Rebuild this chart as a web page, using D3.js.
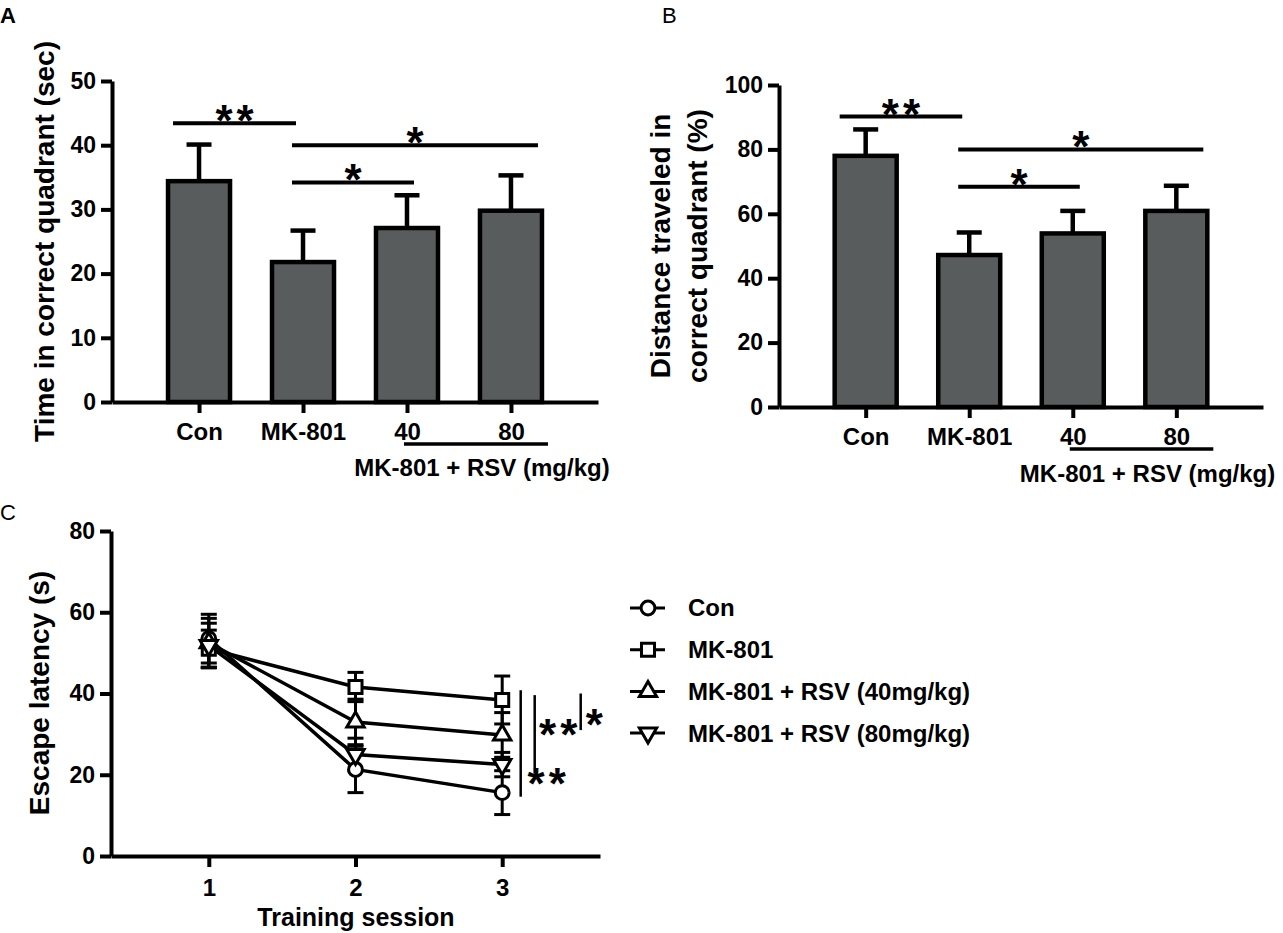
<!DOCTYPE html>
<html>
<head>
<meta charset="utf-8">
<script src="https://cdn.jsdelivr.net/npm/d3@7"></script>
<style>
  body { margin: 0; background: #fff; }
  svg { display: block; font-family: "Liberation Sans", Arial, sans-serif; font-weight: bold; }
</style>
</head>
<body>
<svg id="chart" width="1283" height="933"></svg>
<script>
// ---- data ----
const barCats = ["Con", "MK-801", "40", "80"];
const timeMeans = [34.4, 21.8, 27.1, 29.8];
const timeSem = [5.7, 4.9, 5.1, 5.5];
const timeTicks = [0, 10, 20, 30, 40, 50];
const distMeans = [78.0, 47.2, 53.9, 60.9];
const distSem = [8.2, 7.0, 7.0, 7.8];
const distTicks = [0, 20, 40, 60, 80, 100];
// [from group, to group, bar height, label]
const sigTime = [[0, 1, 43.4, "**"], [1, 3, 40.0, "*"], [1, 2, 34.2, "*"]];
const sigDist = [[0, 1, 90.2, "**"], [1, 3, 80.0, "*"], [1, 2, 68.4, "*"]];

const sessions = [1, 2, 3];
const groupNames = ["Con", "MK-801", "MK-801 + RSV (40mg/kg)", "MK-801 + RSV (80mg/kg)"];
const conMeans = [53.5, 21.3, 15.6];
const conSem = [6.0, 5.7, 5.4];
const mkMeans = [51.0, 41.6, 38.4];
const mkSem = [4.6, 3.6, 5.9];
const rsv40Means = [52.5, 33.0, 29.8];
const rsv40Sem = [6.0, 5.6, 5.5];
const rsv80Means = [51.8, 25.0, 22.5];
const rsv80Sem = [5.5, 4.0, 3.0];
const latencyTicks = [0, 20, 40, 60, 80];
// [top, bottom, label]
const sigLatency = [[40.8, 14.6, "**"], [39.6, 20.3, "**"], [40.0, 31.0, "*"]];

const svg = d3.select("#chart");
svg.append("rect").attr("width", 1283).attr("height", 933).attr("fill", "#fff");

const barFill = "#595c5d";

// panel letters
svg.append("text").attr("x", 0).attr("y", 23).attr("font-size", 22).text("A");
svg.append("text").attr("x", 662).attr("y", 23).attr("font-size", 22).attr("font-weight", "normal").text("B");
svg.append("text").attr("x", 0).attr("y", 520).attr("font-size", 22).attr("font-weight", "normal").text("C");

function styleAxis(g, size) {
  g.selectAll("path, line").attr("stroke", "#000").attr("stroke-width", 4);
  g.selectAll("text").attr("font-size", size).attr("fill", "#000")
    .attr("font-family", "\"Liberation Sans\", Arial, sans-serif").attr("font-weight", "bold");
}

// asterisk label, a little spaced out like the original
function stars(g, x, y, lab) {
  g.append("text").attr("x", x + 2).attr("y", y)
    .attr("text-anchor", "middle").attr("font-size", 44)
    .attr("letter-spacing", 4).text(lab);
}

function barPanel(opt) {
  const x = d3.scalePoint().domain(barCats).range([opt.left, opt.right]).padding(0.837);
  const y = d3.scaleLinear().domain(opt.domain).range([opt.bottom, opt.top]);
  const g = svg.append("g");

  // bars
  g.selectAll("rect.bar")
    .data(barCats)
    .join("rect")
    .attr("class", "bar")
    .attr("x", (d) => x(d) - 31)
    .attr("width", 62)
    .attr("y", (d, i) => y(opt.means[i]))
    .attr("height", (d, i) => y(0) - y(opt.means[i]))
    .attr("fill", barFill)
    .attr("stroke", "#000")
    .attr("stroke-width", 4.5);

  // error bars (upper only)
  const err = g.selectAll("g.err").data(barCats).join("g").attr("class", "err");
  err.append("line")
    .attr("x1", (d) => x(d)).attr("x2", (d) => x(d))
    .attr("y1", (d, i) => y(opt.means[i]))
    .attr("y2", (d, i) => y(opt.means[i] + opt.sem[i]))
    .attr("stroke", "#000").attr("stroke-width", 4.5);
  err.append("line")
    .attr("x1", (d) => x(d) - 12.5).attr("x2", (d) => x(d) + 12.5)
    .attr("y1", (d, i) => y(opt.means[i] + opt.sem[i]))
    .attr("y2", (d, i) => y(opt.means[i] + opt.sem[i]))
    .attr("stroke", "#000").attr("stroke-width", 4.5);

  // axes
  const yAxis = g.append("g").attr("transform", `translate(${opt.left},0)`)
    .call(d3.axisLeft(y).tickValues(opt.ticks).tickSize(11).tickSizeOuter(0).tickPadding(5));
  styleAxis(yAxis, 23);
  const xAxis = g.append("g").attr("transform", `translate(0,${opt.bottom})`)
    .call(d3.axisBottom(x).tickSize(11).tickSizeOuter(0).tickPadding(10));
  styleAxis(xAxis, 24);

  // significance bars
  const startOff = [-26, -11, 0, 0];
  const endOff = [0, -7, 7, 27];
  opt.sig.forEach(([a, b, v, lab]) => {
    const x1 = x(barCats[a]) + startOff[a];
    const x2 = x(barCats[b]) + endOff[b];
    g.append("line").attr("x1", x1).attr("x2", x2).attr("y1", y(v)).attr("y2", y(v))
      .attr("stroke", "#000").attr("stroke-width", 4);
    stars(g, (x1 + x2) / 2, y(v) + 13, lab);
  });

  // group bracket under 40 / 80
  const gx1 = x("40") - 3, gx2 = x("80") + 37;
  g.append("line").attr("x1", gx1).attr("x2", gx2).attr("y1", opt.groupY).attr("y2", opt.groupY)
    .attr("stroke", "#000").attr("stroke-width", 3.5);
  g.append("text").attr("x", (gx1 + gx2) / 2 + 6).attr("y", opt.groupTextY)
    .attr("text-anchor", "middle").attr("font-size", 24).text("MK-801 + RSV (mg/kg)");

  // y title
  opt.title.forEach((line, i) => {
    g.append("text")
      .attr("transform", `translate(${opt.titleX[i]},${(opt.top + opt.bottom) / 2}) rotate(-90)`)
      .attr("text-anchor", "middle").attr("dy", "0.35em").attr("font-size", 28).text(line);
  });
}

barPanel({
  left: 112, right: 598, top: 81, bottom: 402, domain: [0, 50], ticks: timeTicks,
  means: timeMeans, sem: timeSem, sig: sigTime, groupY: 444, groupTextY: 476,
  title: ["Time in correct quadrant (sec)"], titleX: [44]
});

barPanel({
  left: 779, right: 1263, top: 85, bottom: 407, domain: [0, 100], ticks: distTicks,
  means: distMeans, sem: distSem, sig: sigDist, groupY: 449, groupTextY: 482,
  title: ["Distance traveled in", "correct quadrant (%)"], titleX: [660, 697]
});

// ---- panel C: escape latency ----
const xC = d3.scaleLinear().domain([1 / 3, 11 / 3]).range([111, 600]);
const yC = d3.scaleLinear().domain([0, 80]).range([856, 531]);
const gC = svg.append("g");

const series = [
  { name: groupNames[0], means: conMeans, sem: conSem, sym: d3.symbolCircle, size: 150, rot: 0 },
  { name: groupNames[1], means: mkMeans, sem: mkSem, sym: d3.symbolSquare, size: 170, rot: 0 },
  { name: groupNames[2], means: rsv40Means, sem: rsv40Sem, sym: d3.symbolTriangle, size: 130, rot: 0 },
  { name: groupNames[3], means: rsv80Means, sem: rsv80Sem, sym: d3.symbolTriangle, size: 130, rot: 180 }
];

const line = d3.line().x((d, i) => xC(sessions[i])).y((d) => yC(d));

series.forEach((s) => {
  gC.append("path").datum(s.means).attr("d", line)
    .attr("fill", "none").attr("stroke", "#000").attr("stroke-width", 3.5);
});

series.forEach((s) => {
  s.means.forEach((m, i) => {
    const cx = xC(sessions[i]);
    gC.append("line").attr("x1", cx).attr("x2", cx)
      .attr("y1", yC(m - s.sem[i])).attr("y2", yC(m + s.sem[i]))
      .attr("stroke", "#000").attr("stroke-width", 3);
    [m - s.sem[i], m + s.sem[i]].forEach((v) => {
      gC.append("line").attr("x1", cx - 8).attr("x2", cx + 8)
        .attr("y1", yC(v)).attr("y2", yC(v))
        .attr("stroke", "#000").attr("stroke-width", 3);
    });
  });
});

series.forEach((s) => {
  const path = d3.symbol().type(s.sym).size(s.size)();
  gC.selectAll(null).data(s.means).join("path")
    .attr("d", path)
    .attr("transform", (d, i) => `translate(${xC(sessions[i])},${yC(d)}) rotate(${s.rot})`)
    .attr("fill", "#fff").attr("stroke", "#000").attr("stroke-width", 3);
});

const yAxisC = gC.append("g").attr("transform", "translate(111,0)")
  .call(d3.axisLeft(yC).tickValues(latencyTicks).tickSize(11).tickSizeOuter(0).tickPadding(5));
styleAxis(yAxisC, 23);
const xAxisC = gC.append("g").attr("transform", "translate(0,856)")
  .call(d3.axisBottom(xC).tickValues(sessions).tickFormat(d3.format("d")).tickSize(11).tickSizeOuter(0).tickPadding(12));
styleAxis(xAxisC, 24);

gC.append("text").attr("x", 356).attr("y", 926).attr("text-anchor", "middle")
  .attr("font-size", 25).text("Training session");
gC.append("text").attr("transform", "translate(39,693) rotate(-90)")
  .attr("text-anchor", "middle").attr("dy", "0.35em").attr("font-size", 28).text("Escape latency (s)");

// significance lines at session 3
const sigLineDx = [18.5, 32.5, 78.5];
const sigLabelPos = [[44.5, 20.2], [56, 32.3], [92, 34.7]];
sigLatency.forEach(([top, bottom, lab], i) => {
  const lx = xC(3) + sigLineDx[i];
  gC.append("line").attr("x1", lx).attr("x2", lx).attr("y1", yC(top)).attr("y2", yC(bottom))
    .attr("stroke", "#000").attr("stroke-width", 2.5);
  stars(gC, xC(3) + sigLabelPos[i][0], yC(sigLabelPos[i][1]) + 25, lab);
});

// legend
const legend = gC.append("g").attr("transform", "translate(630,608)");
series.forEach((s, i) => {
  const row = legend.append("g").attr("transform", `translate(0,${i * 41.7})`);
  row.append("line").attr("x1", 0).attr("x2", 35).attr("stroke", "#000").attr("stroke-width", 3);
  row.append("path").attr("d", d3.symbol().type(s.sym).size(s.size)())
    .attr("transform", `translate(18,0) rotate(${s.rot})`)
    .attr("fill", "#fff").attr("stroke", "#000").attr("stroke-width", 3);
  row.append("text").attr("x", 58).attr("dy", "0.35em").attr("font-size", 24).text(s.name);
});
</script>
</body>
</html>
